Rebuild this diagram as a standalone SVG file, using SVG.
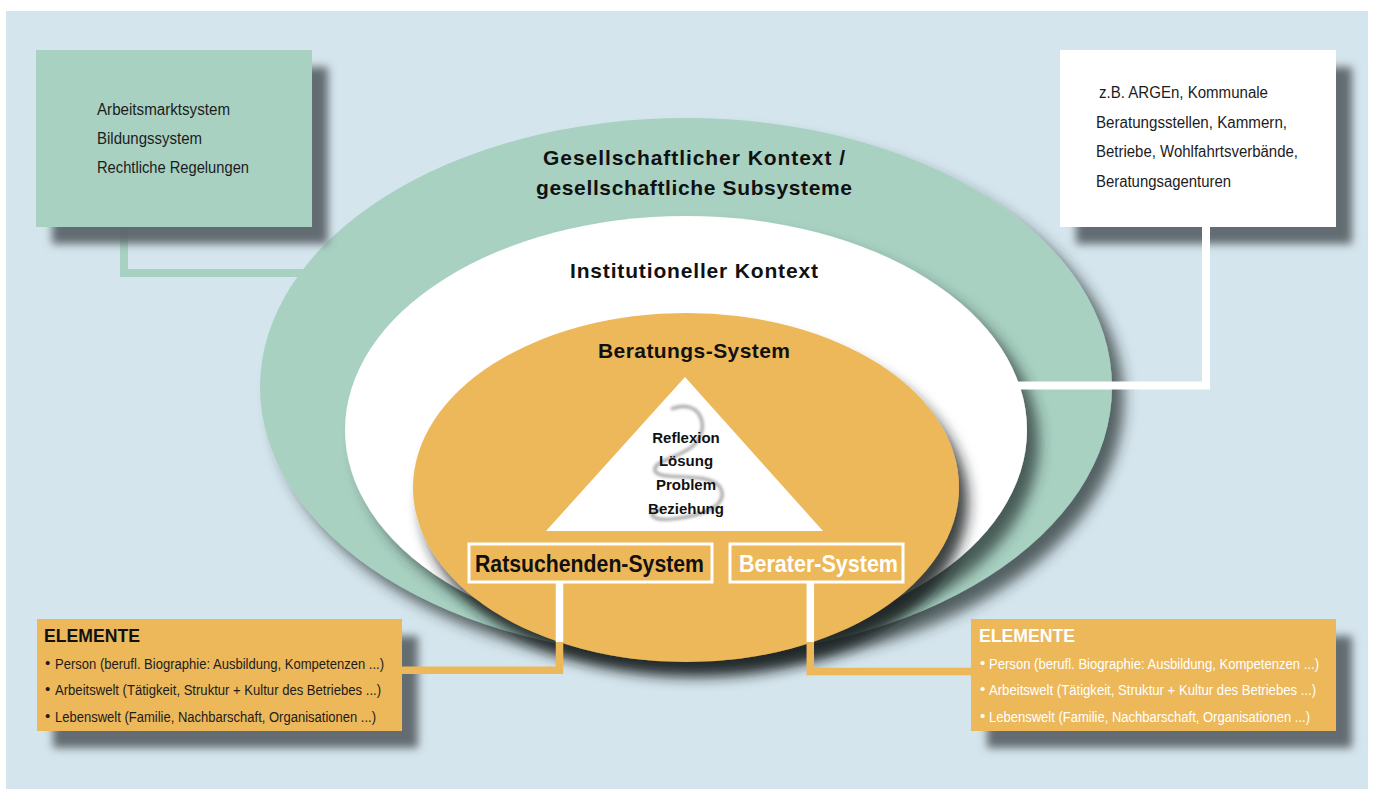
<svg xmlns="http://www.w3.org/2000/svg" width="1373" height="789" viewBox="0 0 1373 789">
<defs>
<style>
.t{font-family:"Liberation Sans",Arial,sans-serif;fill:#1c1c1c}
.b{font-weight:bold;fill:#111}
.w{fill:#ffffff}
.conn{fill:none;stroke-linecap:butt;stroke-linejoin:miter}
</style>
<filter id="boxShadow" x="-10%" y="-10%" width="130%" height="150%">
<feGaussianBlur in="SourceAlpha" stdDeviation="4"/>
<feOffset dx="16" dy="17" result="o"/>
<feFlood flood-color="#5c666b" flood-opacity="0.95"/>
<feComposite in2="o" operator="in"/>
<feMerge><feMergeNode/><feMergeNode in="SourceGraphic"/></feMerge>
</filter>
<filter id="ellShadow" x="-10%" y="-10%" width="125%" height="135%">
<feGaussianBlur in="SourceAlpha" stdDeviation="7"/>
<feOffset dx="12" dy="13" result="o"/>
<feFlood flood-color="#25302f" flood-opacity="0.72"/>
<feComposite in2="o" operator="in"/>
<feMerge><feMergeNode/><feMergeNode in="SourceGraphic"/></feMerge>
</filter>
<filter id="orShadow" x="-10%" y="-10%" width="125%" height="135%">
<feGaussianBlur in="SourceAlpha" stdDeviation="7"/>
<feOffset dx="9" dy="15" result="o"/>
<feFlood flood-color="#1a1f20" flood-opacity="0.85"/>
<feComposite in2="o" operator="in"/>
<feMerge><feMergeNode/><feMergeNode in="SourceGraphic"/></feMerge>
</filter>
<filter id="blur" x="-20%" y="-20%" width="140%" height="140%">
<feGaussianBlur stdDeviation="1.4"/>
</filter>
</defs>

<rect x="0" y="0" width="1373" height="789" fill="#ffffff"/>
<rect x="6" y="11" width="1362" height="778" fill="#d5e5ed"/>

<g id="connector-left-green">
<path class="conn" d="M124 220 V273 H305" stroke="#a8d1c2" stroke-width="8"/>
</g>

<g id="ellipse-gesellschaft">
<ellipse cx="686" cy="387" rx="426" ry="269" fill="#a8d1c2" filter="url(#ellShadow)"/>
<text class="t b" x="694" y="165" font-size="21" text-anchor="middle" textLength="302" lengthAdjust="spacing">Gesellschaftlicher Kontext /</text>
<text class="t b" x="694" y="195" font-size="21" text-anchor="middle" textLength="316" lengthAdjust="spacing">gesellschaftliche Subsysteme</text>
</g>

<g id="ellipse-institution">
<ellipse cx="686" cy="430" rx="341" ry="214" fill="#ffffff" filter="url(#ellShadow)"/>
<text class="t b" x="694" y="278" font-size="21" text-anchor="middle" textLength="248" lengthAdjust="spacing">Institutioneller Kontext</text>
</g>

<g id="ellipse-beratung">
<ellipse cx="686" cy="487.5" rx="273" ry="174.5" fill="#ecb85a" filter="url(#orShadow)"/>
<text class="t b" x="694" y="358" font-size="21" text-anchor="middle" textLength="192" lengthAdjust="spacing">Beratungs-System</text>
</g>

<g id="triangle">
<polygon points="685,377 546,531 823,531" fill="#ffffff"/>
<path d="M671 409 C698 398 712 424 695 444 C682 458 652 460 655 471 C660 482 712 470 721 489 C728 506 702 516 672 519 C652 521 645 513 661 509" fill="none" stroke="#8a8a8a" stroke-width="3.2" opacity="0.75" filter="url(#blur)"/>
<text class="t b" x="686" y="443" font-size="15" text-anchor="middle">Reflexion</text>
<text class="t b" x="686" y="466" font-size="15" text-anchor="middle">Lösung</text>
<text class="t b" x="686" y="490" font-size="15" text-anchor="middle">Problem</text>
<text class="t b" x="686" y="514" font-size="15" text-anchor="middle">Beziehung</text>
</g>

<g id="box-ratsuchende">
<rect x="469" y="544" width="243" height="38" fill="#ecb85a" stroke="#ffffff" stroke-width="3"/>
<text class="t b" x="475" y="572" font-size="23" textLength="229" lengthAdjust="spacingAndGlyphs">Ratsuchenden-System</text>
</g>

<g id="box-berater">
<rect x="730" y="544" width="173" height="38" fill="#ecb85a" stroke="#ffffff" stroke-width="3"/>
<text class="t b w" x="739" y="572" font-size="23" textLength="159" lengthAdjust="spacingAndGlyphs">Berater-System</text>
</g>

<g id="box-subsysteme">
<rect x="36" y="50" width="276" height="177" fill="#a8d1c2" filter="url(#boxShadow)"/>
<text class="t" x="97" y="115" font-size="16" textLength="133" lengthAdjust="spacingAndGlyphs">Arbeitsmarktsystem</text>
<text class="t" x="97" y="144" font-size="16" textLength="105" lengthAdjust="spacingAndGlyphs">Bildungssystem</text>
<text class="t" x="97" y="173" font-size="16" textLength="152" lengthAdjust="spacingAndGlyphs">Rechtliche Regelungen</text>
</g>

<g id="box-institutionen">
<rect x="1060" y="50" width="276" height="177" fill="#ffffff" filter="url(#boxShadow)"/>
<text class="t" x="1099" y="98" font-size="16" textLength="169" lengthAdjust="spacingAndGlyphs">z.B. ARGEn, Kommunale</text>
<text class="t" x="1096" y="128" font-size="16" textLength="191" lengthAdjust="spacingAndGlyphs">Beratungsstellen, Kammern,</text>
<text class="t" x="1096" y="157" font-size="16" textLength="202" lengthAdjust="spacingAndGlyphs">Betriebe, Wohlfahrtsverbände,</text>
<text class="t" x="1096" y="187" font-size="16" textLength="135" lengthAdjust="spacingAndGlyphs">Beratungsagenturen</text>
</g>

<g id="box-elemente-links">
<rect x="37" y="619" width="365" height="112" fill="#ecb85a" filter="url(#boxShadow)"/>
<text class="t b" x="44" y="642" font-size="19" textLength="96" lengthAdjust="spacingAndGlyphs">ELEMENTE</text>
<text class="t" x="45" y="668" font-size="15">•</text>
<text class="t" x="55" y="669" font-size="15.5" textLength="329" lengthAdjust="spacingAndGlyphs">Person (berufl. Biographie: Ausbildung, Kompetenzen ...)</text>
<text class="t" x="45" y="694" font-size="15">•</text>
<text class="t" x="55" y="695" font-size="15.5" textLength="326" lengthAdjust="spacingAndGlyphs">Arbeitswelt (Tätigkeit, Struktur + Kultur des Betriebes ...)</text>
<text class="t" x="45" y="721" font-size="15">•</text>
<text class="t" x="55" y="722" font-size="15.5" textLength="321" lengthAdjust="spacingAndGlyphs">Lebenswelt (Familie, Nachbarschaft, Organisationen ...)</text>
</g>

<g id="box-elemente-rechts">
<rect x="971" y="619" width="365" height="112" fill="#ecb85a" filter="url(#boxShadow)"/>
<text class="t b w" x="979" y="642" font-size="19" textLength="96" lengthAdjust="spacingAndGlyphs">ELEMENTE</text>
<text class="t w" x="980" y="668" font-size="15">•</text>
<text class="t w" x="989" y="669" font-size="15.5" textLength="330" lengthAdjust="spacingAndGlyphs">Person (berufl. Biographie: Ausbildung, Kompetenzen ...)</text>
<text class="t w" x="980" y="694" font-size="15">•</text>
<text class="t w" x="989" y="695" font-size="15.5" textLength="327" lengthAdjust="spacingAndGlyphs">Arbeitswelt (Tätigkeit, Struktur + Kultur des Betriebes ...)</text>
<text class="t w" x="980" y="721" font-size="15">•</text>
<text class="t w" x="989" y="722" font-size="15.5" textLength="321" lengthAdjust="spacingAndGlyphs">Lebenswelt (Familie, Nachbarschaft, Organisationen ...)</text>
</g>

<g id="connectors">
<path class="conn" d="M1206 227 V385.5 H1016" stroke="#ffffff" stroke-width="8"/>
<path class="conn" d="M559.5 640 V670.3 H402" stroke="#ecb85a" stroke-width="7.5"/>
<path class="conn" d="M559.5 583 V642" stroke="#ffffff" stroke-width="7.5"/>
<path class="conn" d="M810.3 640 V671.5 H971" stroke="#ecb85a" stroke-width="7.5"/>
<path class="conn" d="M810.3 583 V642" stroke="#ffffff" stroke-width="7.5"/>
</g>
</svg>
